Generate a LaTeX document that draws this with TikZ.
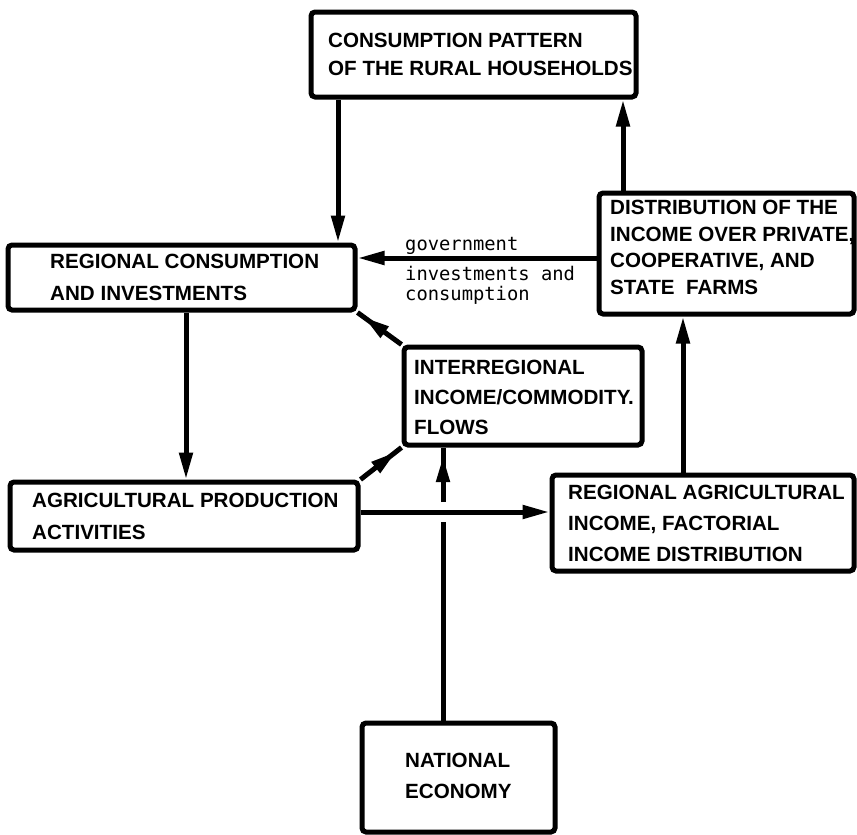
\documentclass[tikz,border=0pt]{standalone}
\usepackage{fontspec}
\setmainfont{Liberation Sans}
\newfontfamily\labelmono{DejaVu Sans Mono}
\usetikzlibrary{arrows.meta,decorations.markings,calc}
\begin{document}
\begin{tikzpicture}[x=1pt,y=-1pt,
  box/.style={draw, line width=5pt, rounded corners=4pt, inner sep=0pt},
  boxtext/.style={anchor=north west, inner sep=0pt, align=left,
    font=\fontsize{20.6}{#1}\selectfont\bfseries},
  boxtext/.default=30,
  lbl/.style={inner sep=0pt, align=left, font=\labelmono\fontsize{18.8}{20.5}\selectfont},
  conn/.style={line width=5pt},
  endarrow/.style={-{Triangle[length=27pt,width=13pt]}},
  midarrow/.style={postaction={decorate}, decoration={markings,
    mark=at position #1 with {\arrow{Triangle[length=26pt,width=13pt]}}}}
]
\useasboundingbox (0,0) rectangle (857,835);
\fill[white] (0,0) rectangle (857,835);

% boxes
\node[box, minimum width=325pt, minimum height=85pt] (cons) at (473.5,54.5) {};
\node[box, minimum width=347pt, minimum height=65pt] (regc) at (181.5,277.5) {};
\node[box, minimum width=255pt, minimum height=121pt] (dist) at (726.5,253.5) {};
\node[box, minimum width=238pt, minimum height=98pt] (inter) at (523,396) {};
\node[box, minimum width=348pt, minimum height=68pt] (agri) at (184,516) {};
\node[box, minimum width=302pt, minimum height=96pt] (ragr) at (703,523) {};
\node[box, minimum width=193pt, minimum height=109pt] (nat) at (458.5,777.5) {};

% box texts
\node[boxtext=28] (consT) at (328,33) {CONSUMPTION PATTERN\\OF THE RURAL HOUSEHOLDS};
\node[boxtext=31.5] (regcT) at (50,254) {REGIONAL CONSUMPTION\\AND INVESTMENTS};
\node[boxtext=26.7] (distT) at (610,200) {DISTRIBUTION OF THE\\INCOME OVER PRIVATE,\\COOPERATIVE, AND\\STATE\ \ FARMS};
\node[boxtext=30] (interT) at (414,360) {INTERREGIONAL\\INCOME/COMMODITY.\\FLOWS};
\node[boxtext=31.5] (agriT) at (32,493) {AGRICULTURAL PRODUCTION\\ACTIVITIES};
\node[boxtext=31] (ragrT) at (568,485) {REGIONAL AGRICULTURAL\\INCOME, FACTORIAL\\INCOME DISTRIBUTION};
\node[boxtext=31] (natT) at (405,753) {NATIONAL\\ECONOMY};

% labels
\node[lbl, anchor=base west] (gov) at (405,250) {government};
\node[lbl, anchor=north west] (invest) at (405,266) {investments and\\consumption};

% helper coordinates
\coordinate (ax1) at (338,170);
\coordinate (ax2) at (623,150);
\coordinate (ay1) at (480,258);
\coordinate (ax3) at (186,400);
\coordinate (ay2) at (450,512);
\coordinate (ax4) at (683,400);
\coordinate (ax5) at (443,600);
\coordinate (gapT) at (443,502);
\coordinate (gapB) at (443,522);

% connectors
\draw[conn,endarrow] (cons.south -| ax1) -- (regc.north -| ax1);
\draw[conn,endarrow] (dist.north -| ax2) -- (cons.south -| ax2);
\draw[conn,endarrow] (dist.west |- ay1) -- (regc.east |- ay1);
\draw[conn,endarrow] (regc.south -| ax3) -- (agri.north -| ax3);
\draw[conn,endarrow] (agri.east |- ay2) -- (ragr.west |- ay2);
\draw[conn,endarrow] (ragr.north -| ax4) -- (dist.south -| ax4);
\draw[conn] (nat.north -| ax5) -- (gapB);
\draw[conn,midarrow=0.84] (gapT) -- (inter.south -| ax5);
\draw[conn,midarrow=0.86] (inter.north west) -- (regc.south east);
\draw[conn,midarrow=0.87] (agri.north east) -- (inter.south west);
\end{tikzpicture}
\end{document}
